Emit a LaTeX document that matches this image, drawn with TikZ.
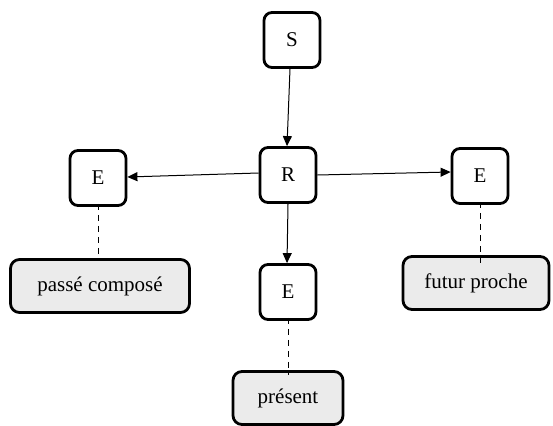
\documentclass[tikz,border=0pt]{standalone}
\usepackage{fontspec}
\setmainfont{Liberation Serif}
\usetikzlibrary{arrows.meta}
\definecolor{lbl}{HTML}{EBEBEB}
\tikzset{
  x=1pt,y=-1pt,
  sbox/.style={draw,line width=2.8pt,rounded corners=8pt,minimum width=56pt,minimum height=55pt,inner sep=0pt,font=\fontsize{21}{24}\selectfont},
  lbox/.style={draw,line width=2.8pt,rounded corners=9pt,fill=lbl,minimum height=53pt,inner sep=0pt,font=\fontsize{21}{24}\selectfont},
  arr/.style={line width=1pt,-{Triangle[length=10pt,width=9pt]}},
  dsh/.style={line width=1pt,dash pattern=on 6pt off 5pt}
}
\begin{document}
\begin{tikzpicture}
\useasboundingbox (0,0) rectangle (553,425);
\node[sbox] (S) at (292,40) {S};
\node[sbox] (R) at (288,175) {R};
\node[sbox] (EL) at (98,178) {E};
\node[sbox] (ER) at (480,176) {E};
\node[sbox] (EB) at (288,292) {E};
\node[lbox,minimum width=179pt] (PC) at (100,286) {passé composé};
\node[lbox,minimum width=146pt] (FP) at (476,283) {futur proche};
\node[lbox,minimum width=110pt] (PR) at (288,398) {présent};
\draw[arr] (S.south) ++(-2,0) -- ([xshift=-1pt]R.north);
\draw[arr] ([yshift=2pt]R.west) -- ([yshift=1pt]EL.east);
\draw[arr] (R.east) -- ([yshift=4pt]ER.east -| ER.west);
\draw[arr] (R.south) -- ([xshift=-1pt]EB.north);
\draw[dsh] ([yshift=3pt]EL.south) -- ([yshift=-3pt]PC.north -| EL.south);
\draw[dsh] ([yshift=3pt]ER.south) -- ([yshift=-8pt]FP.north -| ER.south);
\draw[dsh] ([yshift=3pt]EB.south) -- ([yshift=-5pt]PR.north);
\end{tikzpicture}
\end{document}
